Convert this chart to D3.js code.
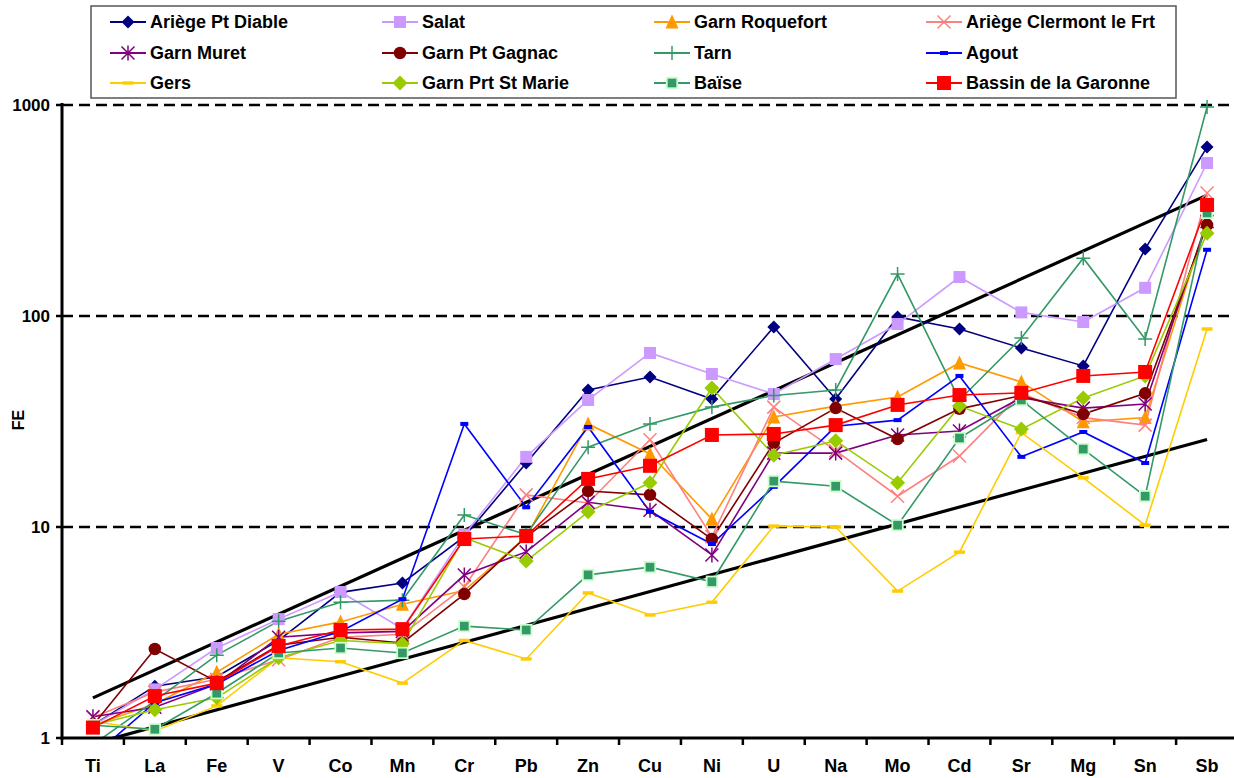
<!DOCTYPE html>
<html><head><meta charset="utf-8">
<script src="https://cdn.jsdelivr.net/npm/d3@7/dist/d3.min.js"></script>
<style>
html,body{margin:0;padding:0;background:#fff;}
svg{display:block;font-family:"Liberation Sans",Arial,sans-serif;font-weight:bold;}
</style></head>
<body>
<svg id="chart" width="1234" height="778"></svg>
<script>
// ---------- data ----------
const categories = ["Ti","La","Fe","V","Co","Mn","Cr","Pb","Zn","Cu","Ni","U","Na","Mo","Cd","Sr","Mg","Sn","Sb"];
const yTicks = [1,10,100,1000];
const yTickLabels = ["1","10","100","1000"];

const ariegePtDiable   = [1.15,1.76,1.95,2.9,4.9,5.43,9.0,20.1,44.6,51.4,40.4,88.7,40.4,99,86.8,70.5,58,208,632];
const salat            = [1.15,1.7,2.67,3.66,4.92,3.3,9.2,21.5,40,66.8,53.1,42.7,62.5,91.6,153,104,93.7,136,531];
const garnRoquefort    = [1.15,1.45,2.05,3.1,3.55,4.3,5.0,9.0,30.8,22.2,10.9,33.2,37.4,41.3,59.9,48.7,31.5,33,285];
const ariegeClermont   = [1.25,1.65,1.9,2.35,3.0,3.1,5.2,14.2,13,25.9,9.0,37,23,14.0,21.7,43,33,30.4,383];
const garnMuret        = [1.26,1.4,1.8,3.0,3.15,3.2,5.92,7.62,13.1,12,7.37,22.4,22.4,27.3,28.5,41,36.6,38.3,280];
const garnPtGagnac     = [1.15,2.64,1.85,2.75,3.0,2.82,4.81,9.0,14.8,14.2,8.77,25,36.6,26.1,36.3,42,34.3,43,270];
const tarn             = [0.93,1.5,2.47,3.58,4.4,4.5,11.4,9.2,23.9,30.8,37,42,44.6,158,40,78.7,188,77.8,978];
const agout            = [0.82,1.47,1.8,2.6,3.2,4.55,30.8,12.4,29.8,11.8,8.3,15.5,30,32.1,52,21.5,28.2,20.1,206];
const gers             = [1.2,1.08,1.42,2.4,2.3,1.82,2.9,2.37,4.87,3.83,4.4,10.1,10,4.97,7.6,28.0,17.1,10.2,86.8];
const garnPrtStMarie   = [1.15,1.36,1.55,2.4,2.9,2.8,8.9,6.9,11.8,16.2,45.6,21.9,25.6,16.2,37.4,29.1,40.9,52,247];
const baise            = [1.15,1.10,1.63,2.53,2.67,2.53,3.39,3.25,5.93,6.45,5.5,16.5,15.6,10.2,26.4,40,23.4,14.0,308];
const bassinGaronne    = [1.12,1.58,1.82,2.73,3.25,3.28,8.77,9.07,16.9,19.5,27.3,27.6,30.4,37.9,42.2,43.2,52,54.3,336];

const seriesNames = ["Ariège Pt Diable","Salat","Garn Roquefort","Ariège Clermont le Frt",
  "Garn Muret","Garn Pt Gagnac","Tarn","Agout","Gers","Garn Prt St Marie","Baïse","Bassin de la Garonne"];
const seriesValues = [ariegePtDiable,salat,garnRoquefort,ariegeClermont,garnMuret,garnPtGagnac,
  tarn,agout,gers,garnPrtStMarie,baise,bassinGaronne];

// trend envelope lines (values at Ti and Sb)
const upperTrend = [1.55, 374];
const lowerTrend = [0.94, 26];

// ---------- styles ----------
const styles = [
  {color:"#000080", marker:"diamond", size:13},
  {color:"#CC99FF", marker:"square", size:12},
  {color:"#FF9900", marker:"triangle", size:13},
  {color:"#FF8080", marker:"x", size:13},
  {color:"#800080", marker:"asterisk", size:13},
  {color:"#800000", marker:"circle", size:12.5},
  {color:"#339966", marker:"plus", size:14},
  {color:"#0000FF", marker:"dashS", size:8},
  {color:"#FFCC00", marker:"dashL", size:11},
  {color:"#99CC00", marker:"diamond", size:15},
  {color:"#339966", marker:"squareB", size:10.5, border:"#CCFFCC"},
  {color:"#FF0000", marker:"square", size:14}
];

const svg = d3.select("#chart");
const pLeft = 62, pRight = 1238, pTop = 105, pBottom = 738;

const x = d3.scaleBand().domain(categories).range([pLeft,pRight]).padding(0);
const y = d3.scaleLog().domain([1,1000]).range([pBottom,pTop]);
const cx = c => x(c) + x.bandwidth()/2;

svg.append("defs").append("clipPath").attr("id","plotclip")
  .append("rect").attr("x",pLeft).attr("y",0).attr("width",pRight-pLeft).attr("height",pBottom);

// gridlines
svg.append("g").selectAll("line").data(yTicks.slice(1)).join("line")
  .attr("x1",pLeft).attr("x2",pRight).attr("y1",d=>y(d)).attr("y2",d=>y(d))
  .attr("stroke","#000").attr("stroke-width",2.5).attr("stroke-dasharray","11,6");

const plot = svg.append("g").attr("clip-path","url(#plotclip)");

// trend lines
[upperTrend, lowerTrend].forEach(t=>{
  plot.append("line")
    .attr("x1",cx(categories[0])).attr("y1",y(t[0]))
    .attr("x2",cx(categories[categories.length-1])).attr("y2",y(t[1]))
    .attr("stroke","#000").attr("stroke-width",3.2);
});

function drawMarker(g, st, px, py){
  const s = st.size, h = s/2;
  const c = st.color;
  switch(st.marker){
    case "diamond":
      g.append("path").attr("d",`M${px},${py-h}L${px+h},${py}L${px},${py+h}L${px-h},${py}Z`).attr("fill",c);
      break;
    case "square":
      g.append("rect").attr("x",px-h).attr("y",py-h).attr("width",s).attr("height",s).attr("fill",c);
      break;
    case "squareB":
      g.append("rect").attr("x",px-h).attr("y",py-h).attr("width",s).attr("height",s).attr("fill",c)
        .attr("stroke",st.border).attr("stroke-width",1.8);
      break;
    case "triangle":
      g.append("path").attr("d",`M${px},${py-h-1}L${px+h},${py+h}L${px-h},${py+h}Z`).attr("fill",c);
      break;
    case "circle":
      g.append("circle").attr("cx",px).attr("cy",py).attr("r",h).attr("fill",c);
      break;
    case "x":
      g.append("path").attr("d",`M${px-h},${py-h}L${px+h},${py+h}M${px+h},${py-h}L${px-h},${py+h}`)
        .attr("stroke",c).attr("stroke-width",1.5);
      break;
    case "asterisk":
      g.append("path").attr("d",`M${px-h},${py-h}L${px+h},${py+h}M${px+h},${py-h}L${px-h},${py+h}M${px},${py-h-1}L${px},${py+h+1}`)
        .attr("stroke",c).attr("stroke-width",1.5);
      break;
    case "plus":
      g.append("path").attr("d",`M${px-h},${py}L${px+h},${py}M${px},${py-h}L${px},${py+h}`)
        .attr("stroke",c).attr("stroke-width",1.5);
      break;
    case "dashS":
      g.append("rect").attr("x",px-h).attr("y",py-2).attr("width",s).attr("height",4).attr("fill",c);
      break;
    case "dashL":
      g.append("rect").attr("x",px-h).attr("y",py-1.7).attr("width",s).attr("height",3.4).attr("fill",c);
      break;
  }
}

const line = d3.line().x((d,i)=>cx(categories[i])).y(d=>y(d));

seriesValues.forEach((vals,si)=>{
  const st = styles[si];
  plot.append("path").datum(vals).attr("d",line).attr("fill","none")
    .attr("stroke",st.color).attr("stroke-width",1.6);
});
seriesValues.forEach((vals,si)=>{
  const st = styles[si];
  const g = plot.append("g");
  vals.forEach((v,i)=>drawMarker(g, st, cx(categories[i]), y(v)));
});

// axes
svg.append("line").attr("x1",pLeft).attr("x2",pLeft).attr("y1",pTop-2).attr("y2",pBottom+1.5)
  .attr("stroke","#000").attr("stroke-width",3);
svg.append("line").attr("x1",pLeft-1.5).attr("x2",pRight).attr("y1",pBottom).attr("y2",pBottom)
  .attr("stroke","#000").attr("stroke-width",3);
// y ticks
svg.append("g").selectAll("line").data(yTicks).join("line")
  .attr("x1",pLeft-6).attr("x2",pLeft).attr("y1",d=>y(d)).attr("y2",d=>y(d))
  .attr("stroke","#000").attr("stroke-width",2.5);
svg.append("g").selectAll("text").data(yTicks).join("text")
  .attr("x",50).attr("y",d=>y(d)+6).attr("text-anchor","end")
  .attr("font-size",17).text((d,i)=>yTickLabels[i]);
// x ticks at band boundaries
const bounds = categories.map(c=>x(c)).concat([pRight]);
svg.append("g").selectAll("line").data(bounds).join("line")
  .attr("x1",d=>d).attr("x2",d=>d).attr("y1",pBottom).attr("y2",pBottom+7)
  .attr("stroke","#000").attr("stroke-width",2.5);
svg.append("g").selectAll("text").data(categories).join("text")
  .attr("x",d=>cx(d)).attr("y",772).attr("text-anchor","middle")
  .attr("font-size",18).text(d=>d);

// y label
svg.append("text").attr("transform","translate(24,420) rotate(-90)")
  .attr("text-anchor","middle").attr("font-size",16).text("FE");

// legend
const leg = svg.append("g");
leg.append("rect").attr("x",91).attr("y",6).attr("width",1085).attr("height",92)
  .attr("fill","#fff").attr("stroke","#555").attr("stroke-width",1.5);
const colMarker = [128,400,672,944];
const rowY = [22,53,83];
seriesNames.forEach((name,i)=>{
  const r = Math.floor(i/4), c = i%4;
  const mx = colMarker[c], my = rowY[r];
  const st = styles[i];
  leg.append("line").attr("x1",mx-18).attr("x2",mx+18).attr("y1",my).attr("y2",my)
    .attr("stroke",st.color).attr("stroke-width",1.8);
  drawMarker(leg, st, mx, my);
  leg.append("text").attr("x",mx+22).attr("y",my+6).attr("font-size",18).text(name);
});
</script>
</body></html>
